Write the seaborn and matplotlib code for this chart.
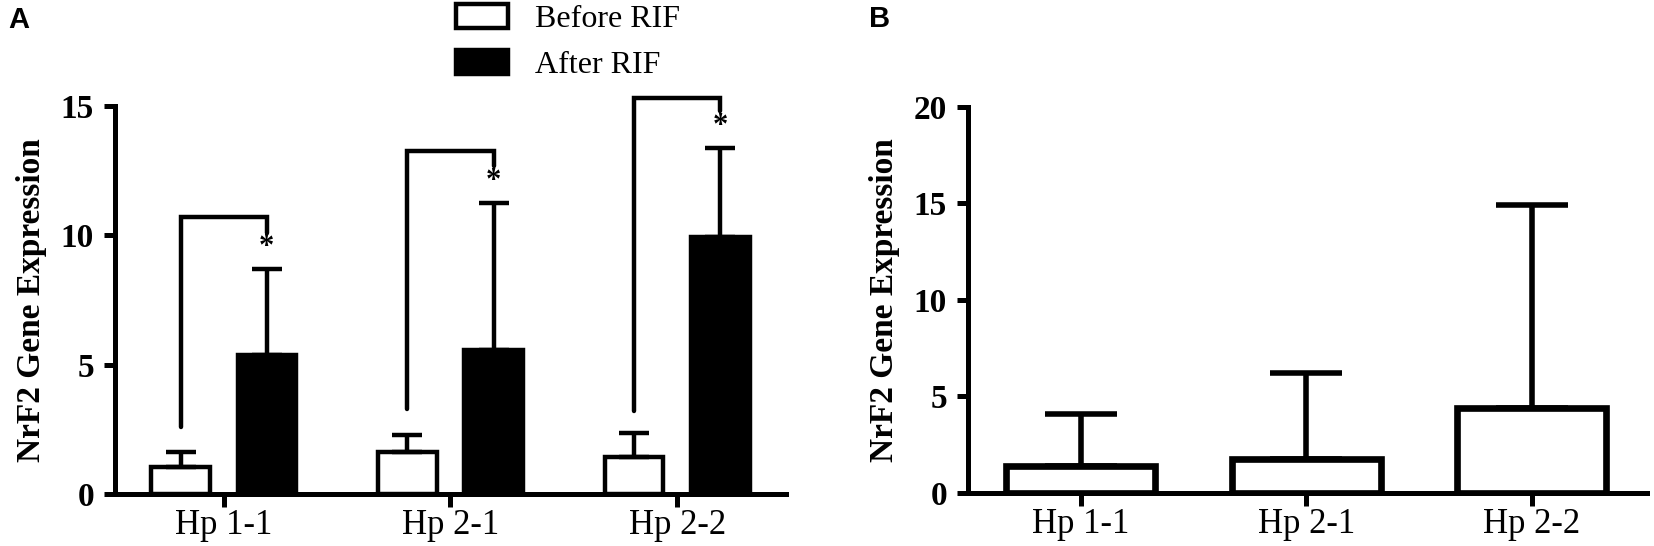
import matplotlib.pyplot as plt
import pandas as pd
import seaborn as sns

# data
groups = ["Hp 1-1", "Hp 2-1", "Hp 2-2"]
conditions = ["Before RIF", "After RIF"]

# panel A: means and upper error (SD)
before_mean = [1.05, 1.63, 1.45]
before_err = [0.59, 0.67, 0.92]
after_mean = [5.38, 5.58, 9.92]
after_err = [3.32, 5.67, 3.45]

# significance brackets (panel A)
bracket_top = [10.7, 13.25, 15.3]
bracket_left_end = [2.6, 3.3, 3.2]
bracket_right_end = [10.1, 12.7, 14.8]
star_y = [9.55, 12.1, 14.2]

# panel B
b_mean = [1.4, 1.75, 4.4]
b_err = [2.67, 4.48, 10.5]

sns.set_style("ticks")
plt.rcParams["font.family"] = ["Liberation Serif", "DejaVu Serif"]
for k in ("text.color", "axes.labelcolor", "xtick.color", "ytick.color", "axes.edgecolor"):
    plt.rcParams[k] = "black"

df_a = pd.DataFrame({
    "group": groups * 2,
    "condition": [conditions[0]] * 3 + [conditions[1]] * 3,
    "value": before_mean + after_mean,
})
df_b = pd.DataFrame({"group": groups, "value": b_mean})

fig = plt.figure(figsize=(16.54, 5.46), dpi=100)
ax1 = fig.add_axes([0.0695, 0.0952, 0.4057, 0.7106])
ax2 = fig.add_axes([0.5852, 0.0971, 0.4105, 0.7070])

# ---- panel A
sns.barplot(data=df_a, x="group", y="value", hue="condition",
            palette={"Before RIF": "white", "After RIF": "black"},
            edgecolor="black", linewidth=3.2, width=0.76, gap=0.32,
            errorbar=None, ax=ax1)

xb = [p.get_x() + p.get_width() / 2 for p in ax1.containers[0]]
xa = [p.get_x() + p.get_width() / 2 for p in ax1.containers[1]]

ax1.errorbar(xb, before_mean, yerr=[[0] * 3, before_err], fmt="none",
             ecolor="black", elinewidth=3.2, capsize=11, capthick=3.2, zorder=1)
ax1.errorbar(xa, after_mean, yerr=[[0] * 3, after_err], fmt="none",
             ecolor="black", elinewidth=3.2, capsize=11, capthick=3.2, zorder=1)

for i in range(3):
    ax1.plot([xb[i], xb[i], xa[i], xa[i]],
             [bracket_left_end[i], bracket_top[i], bracket_top[i], bracket_right_end[i]],
             color="black", lw=3.2, clip_on=False, solid_joinstyle="miter")
    ax1.text(xa[i], star_y[i], "*", ha="center", va="center",
             fontsize=22, fontweight="bold")

ax1.set_ylim(0, 15)
ax1.set_yticks([0, 5, 10, 15])
ax1.set_xlim(-0.48, 2.48)

ax1.legend(loc="upper left", bbox_to_anchor=(456 / 1654, 1 - 4 / 546),
           bbox_transform=fig.transFigure, frameon=False, fontsize=23,
           handlelength=1.63, handleheight=0.78, labelspacing=0.5,
           handletextpad=0.85, borderpad=0, borderaxespad=0)

# ---- panel B
sns.barplot(data=df_b, x="group", y="value", color="white",
            edgecolor="black", linewidth=4.8, width=0.66,
            errorbar=None, ax=ax2)
xs = [p.get_x() + p.get_width() / 2 for p in ax2.containers[0]]
ax2.errorbar(xs, b_mean, yerr=[[0] * 3, b_err], fmt="none",
             ecolor="black", elinewidth=4, capsize=26, capthick=4, zorder=1)
ax2.set_ylim(0, 20)
ax2.set_yticks([0, 5, 10, 15, 20])
ax2.set_xlim(-0.5, 2.51)

for ax in (ax1, ax2):
    sns.despine(ax=ax)
    for s in ("left", "bottom"):
        ax.spines[s].set_linewidth(3.6)
    ax.set_xlabel("")
    ax.set_ylabel("NrF2 Gene Expression", fontsize=24, fontweight="bold", labelpad=10)
    ax.tick_params(axis="x", length=9, width=3.6, labelsize=25, pad=2)
    ax.tick_params(axis="y", length=8, width=3.6, labelsize=24, pad=7)
    for lab in ax.get_yticklabels():
        lab.set_fontweight("bold")

fig.text(8 / 1654, 1 - 6 / 546, "A", fontsize=21, fontweight="bold",
         family="Liberation Sans", va="top")
fig.text(869 / 1654, 1 - 5 / 546, "B", fontsize=21, fontweight="bold",
         family="Liberation Sans", va="top")

fig.savefig("out.png", dpi=100)
